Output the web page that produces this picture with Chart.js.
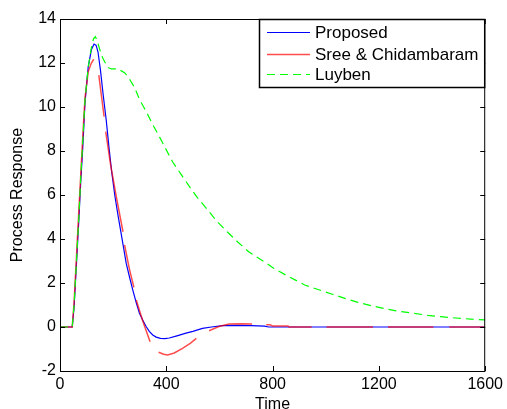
<!DOCTYPE html>
<html>
<head>
<meta charset="utf-8">
<script src="https://cdn.jsdelivr.net/npm/chart.js@4/dist/chart.umd.min.js"></script>
<style>
  html, body { margin: 0; padding: 0; background: #fff; }
  canvas { display: block; }
</style>
</head>
<body>
<canvas id="chart" width="507" height="409"></canvas>
<script>
// values
const xTicks = [0, 400, 800, 1200, 1600];
const yTicks = [-2, 0, 2, 4, 6, 8, 10, 12, 14];

const propT = [0, 46, 53, 62, 71, 78, 85, 94, 106, 118, 128, 136, 143, 152, 162, 174, 184, 194, 206, 218, 230, 249, 262, 274, 287, 299, 312, 324, 336, 349, 362, 378, 395, 411, 440, 474, 500, 536, 570, 611, 660, 720, 770, 785, 1000, 1200, 1400, 1600];
const propY = [0, 0, 0.9, 2.9, 4.9, 6.6, 8.0, 10.2, 11.8, 12.6, 12.86, 12.8, 12.5, 11.7, 10.6, 9.4, 8.2, 7.1, 6.0, 5.1, 4.26, 2.9, 2.25, 1.68, 1.1, 0.62, 0.3, 0.02, -0.2, -0.36, -0.46, -0.52, -0.53, -0.5, -0.4, -0.28, -0.2, -0.06, 0.0, 0.06, 0.07, 0.06, 0.04, 0, 0, 0, 0, 0];

// Sree & Chidambaram is drawn in broken pieces (null = gap)
const sreeT = [0, 46, 53, 62, 71, 78, 85, 94, 106, 118, 127, 136,
  146, 156, 166, 169,
  172, 190, 212, 237, 240,
  243, 260, 278, 282,
  287, 312, 339, 355,
  371, 390, 405, 430, 461, 490, 513, 540,
  561, 598, 636, 680, 723, 750,
  776, 790, 800, 858, 862, 947, 975,
  1003, 1178, 1205,
  1234, 1405, 1435,
  1465, 1600];
const sreeY = [0, 0, 1.1, 3.2, 5.3, 6.9, 8.5, 10.4, 11.6, 12.0, 12.17, null,
  11.45, 10.5, 9.56, null,
  8.88, 7.4, 5.92, 4.33, null,
  3.73, 2.7, 1.8, null,
  1.23, 0.25, -0.67, null,
  -1.15, -1.24, -1.27, -1.18, -0.97, -0.74, -0.52, null,
  -0.17, 0.02, 0.14, 0.15, 0.14, null,
  0.1, 0.1, 0.05, 0.05, 0, 0, null,
  0, 0, null,
  0, 0, null,
  0, 0];

const luyT = [0, 46, 53, 62, 71, 78, 85, 94, 106, 118, 126, 133, 140, 150, 160, 168, 180, 193, 218, 243, 260, 280, 299, 324, 349, 374, 424, 455, 486, 517, 554, 588, 629, 670, 710, 758, 804, 850, 923, 1022, 1072, 1121, 1171, 1227, 1277, 1333, 1383, 1433, 1489, 1545, 1600];
const luyY = [0, 0, 1.0, 3.0, 5.0, 6.8, 8.3, 10.3, 11.8, 12.7, 13.1, 13.2, 13.0, 12.6, 12.25, 12.06, 11.8, 11.73, 11.73, 11.56, 11.3, 10.9, 10.35, 9.8, 9.2, 8.65, 7.5, 6.95, 6.4, 5.88, 5.35, 4.83, 4.33, 3.85, 3.42, 3.05, 2.67, 2.36, 1.9, 1.5, 1.3, 1.12, 0.97, 0.82, 0.71, 0.62, 0.53, 0.47, 0.41, 0.36, 0.32];

const labels = ['Proposed', 'Sree & Chidambaram', 'Luyben'];

function toPoints(ts, ys) {
  return ts.map((t, i) => ({ x: t, y: ys[i] }));
}

const FONT = '"Liberation Sans", Arial, sans-serif';

// matlab-like box, inward ticks and legend inside the axes
const matlabAxes = {
  id: 'matlabAxes',
  afterDraw(chart) {
    const ctx = chart.ctx;
    const a = chart.chartArea;
    const xs = chart.scales.x, ys = chart.scales.y;
    ctx.save();
    ctx.strokeStyle = '#000';
    ctx.lineWidth = 1;
    ctx.strokeRect(a.left + 0.5, a.top + 0.5, a.right - a.left - 1, a.bottom - a.top);
    ctx.beginPath();
    xTicks.forEach(v => {
      let px = Math.round(xs.getPixelForValue(v)) + 0.5;
      ctx.moveTo(px, a.bottom); ctx.lineTo(px, a.bottom - 5);
      ctx.moveTo(px, a.top); ctx.lineTo(px, a.top + 5);
    });
    yTicks.forEach(v => {
      let py = Math.round(ys.getPixelForValue(v)) + 0.5;
      ctx.moveTo(a.left, py); ctx.lineTo(a.left + 5, py);
      ctx.moveTo(a.right, py); ctx.lineTo(a.right - 5, py);
    });
    ctx.stroke();

    // legend
    let bx = 259, by = a.top, bw = a.right - 259, bh = 68;
    ctx.fillStyle = '#fff';
    ctx.fillRect(bx, by, bw, bh);
    ctx.lineWidth = 1.5;
    ctx.strokeRect(bx + 0.5, by + 0.5, bw - 1, bh);
    ctx.font = '17px ' + FONT;
    ctx.textBaseline = 'middle';
    ctx.textAlign = 'left';
    const rowsY = [32, 54, 74];
    chart.data.datasets.forEach((ds, i) => {
      let y = rowsY[i];
      ctx.beginPath();
      ctx.strokeStyle = ds.borderColor;
      ctx.lineWidth = ds.borderWidth;
      ctx.setLineDash(ds.borderDash || []);
      ctx.moveTo(267, y + 0.5); ctx.lineTo(310, y + 0.5);
      ctx.stroke();
      ctx.setLineDash([]);
      ctx.fillStyle = '#000';
      ctx.fillText(ds.label, 315, y + 1);
    });
    ctx.restore();
  }
};

new Chart(document.getElementById('chart'), {
  type: 'line',
  data: {
    datasets: [
      { label: labels[0], data: toPoints(propT, propY), borderColor: '#0000ff', borderWidth: 1.2, order: 2 },
      { label: labels[1], data: toPoints(sreeT, sreeY), borderColor: 'rgba(255,0,0,0.7)', borderWidth: 1.5, order: 1, spanGaps: false },
      { label: labels[2], data: toPoints(luyT, luyY), borderColor: '#00ff00', borderWidth: 1.2, borderDash: [8, 5], order: 0 }
    ]
  },
  options: {
    responsive: false,
    animation: false,
    elements: { point: { radius: 0 }, line: { tension: 0 } },
    // negative bottom padding pushes the "Time" title partly off the canvas like the original
    layout: { padding: { top: 19, right: 19, left: 0, bottom: -5 } },
    plugins: { legend: { display: false }, tooltip: { enabled: false } },
    scales: {
      x: {
        type: 'linear', min: 0, max: 1600,
        afterBuildTicks: s => { s.ticks = xTicks.map(v => ({ value: v })); },
        afterFit: s => { s.height = 43; },
        grid: { display: false, drawTicks: false },
        border: { display: false },
        ticks: { color: '#000', font: { family: FONT, size: 16 }, padding: 4, maxRotation: 0, callback: v => String(v) },
        title: { display: true, text: 'Time', color: '#000', font: { family: FONT, size: 16 }, padding: { top: 0, bottom: 0 } }
      },
      y: {
        type: 'linear', min: -2, max: 14,
        afterBuildTicks: s => { s.ticks = yTicks.map(v => ({ value: v })); },
        afterFit: s => { s.width = 60; },
        grid: { display: false, drawTicks: false },
        border: { display: false },
        ticks: { color: '#000', font: { family: FONT, size: 16 }, padding: 4, callback: v => String(v) },
        title: { display: true, text: 'Process Response', color: '#000', font: { family: FONT, size: 16 }, padding: { top: 8, bottom: 0 } }
      }
    }
  },
  plugins: [matlabAxes]
});
</script>
</body>
</html>
